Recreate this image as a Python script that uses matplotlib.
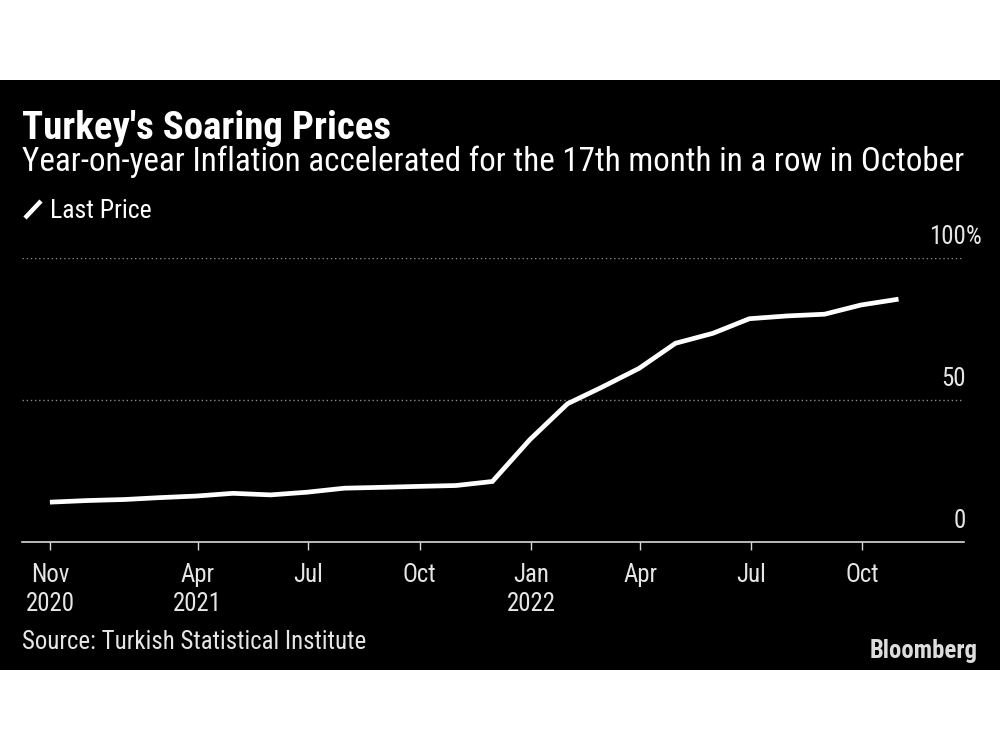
import datetime as dt
import matplotlib
matplotlib.use("Agg")
import matplotlib.pyplot as plt
import matplotlib.dates as mdates
from matplotlib import font_manager
from matplotlib.lines import Line2D
from matplotlib.patches import Rectangle
import pandas as pd

# ---------------- data ----------------
months = pd.date_range("2020-11-30", "2022-10-31", freq="ME")
inflation = [14.03, 14.60, 14.97, 15.61, 16.19, 17.14, 16.59, 17.53, 18.95, 19.25,
             19.58, 19.89, 21.31, 36.08, 48.69, 54.44, 61.14, 69.97, 73.50, 78.62,
             79.60, 80.21, 83.45, 85.51]
x_tick_dates = ["2020-11-30", "2021-04-01", "2021-07-01", "2021-10-01", "2022-01-01",
                "2022-04-01", "2022-07-01", "2022-10-01"]
x_tick_labels = ["Nov\n2020", "Apr\n2021", "Jul", "Oct", "Jan\n2022", "Apr", "Jul", "Oct"]
y_ticks = [0, 50, 100]
y_tick_labels = ["0", "50", "100"]
title = "Turkey's Soaring Prices"
subtitle = "Year-on-year Inflation accelerated for the 17th month in a row in October"
legend_label = "Last Price"
source = "Source: Turkish Statistical Institute"
brand = "Bloomberg"

# ---------------- fonts ----------------
names = {f.name for f in font_manager.fontManager.ttflist}
FONT = "DejaVu Sans"
for cand in ["DejaVu Sans Condensed", "Liberation Sans Narrow", "Roboto Condensed"]:
    if cand in names:
        FONT = cand
        break
plt.rcParams["font.family"] = [FONT, "DejaVu Sans"]

W, H = 1000, 750
fig = plt.figure(figsize=(W / 100, H / 100), dpi=100)
fig.patch.set_facecolor("white")
fig.add_artist(Rectangle((0, 1 - 670 / H), 1, (670 - 80) / H, transform=fig.transFigure,
                         facecolor="black", edgecolor="none", zorder=0))

def fx(px):
    return px / W

def fy(py):
    return 1 - py / H

renderer = fig.canvas.get_renderer()

def fitted_text(x, y, s, target_w, ha="left", weight="normal", color="white", size0=16):
    t = fig.text(fx(x), fy(y), s, ha=ha, va="baseline", fontsize=size0,
                 fontweight=weight, color=color)
    w = t.get_window_extent(renderer).width
    t.set_fontsize(size0 * target_w / w)
    return t

fitted_text(22, 139, title, 368, weight="bold")
fitted_text(22, 171, subtitle, 945)
fitted_text(50, 218, legend_label, 102)
src = fitted_text(22, 649, source, 343, color="#e6e6e6")
fitted_text(978, 658, brand, 108, ha="right", weight="bold", color="#dddddd")
base_size = src.get_fontsize()

fig.add_artist(Line2D([fx(25), fx(41)], [fy(218), fy(201)], transform=fig.transFigure,
                      color="white", linewidth=3.2, solid_capstyle="butt"))

# ---------------- axes ----------------
left, right, bottom, top = 22, 964, 542, 258
ax = fig.add_axes([fx(left), fy(bottom), fx(right - left), (bottom - top) / H])
ax.set_facecolor("none")
ax.plot(months, inflation, color="white", linewidth=3.4, solid_joinstyle="miter",
        solid_capstyle="butt", zorder=3, clip_on=False)

ax.set_xlim(pd.Timestamp("2020-11-07"), pd.Timestamp("2022-12-24"))
ax.set_ylim(0, 100)
for s in ["top", "left", "right"]:
    ax.spines[s].set_visible(False)
ax.spines["bottom"].set_color("#d9d9d9")
ax.spines["bottom"].set_linewidth(1.2)

ax.set_xticks(pd.to_datetime(x_tick_dates))
ax.set_xticklabels(x_tick_labels, color="#e6e6e6", fontsize=base_size, linespacing=1.25)
ax.tick_params(axis="x", direction="out", length=6, width=1, color="#d9d9d9", pad=9)
ax.set_yticks([])

for v in y_ticks[1:]:
    ax.axhline(v, color="#8c8c8c", linewidth=1, linestyle=(0, (1, 2)), zorder=1)

for v, lab in zip(y_ticks, y_tick_labels):
    ax.annotate(lab, xy=(1.0, v), xycoords=("axes fraction", "data"),
                xytext=(1, 10), textcoords="offset points", ha="right", va="baseline",
                color="#e6e6e6", fontsize=base_size, annotation_clip=False)
    if v == y_ticks[-1]:
        ax.annotate("%", xy=(1.0, v), xycoords=("axes fraction", "data"),
                    xytext=(1, 10), textcoords="offset points", ha="left", va="baseline",
                    color="#e6e6e6", fontsize=base_size, annotation_clip=False)

fig.savefig("out.png", dpi=100, facecolor="white")
